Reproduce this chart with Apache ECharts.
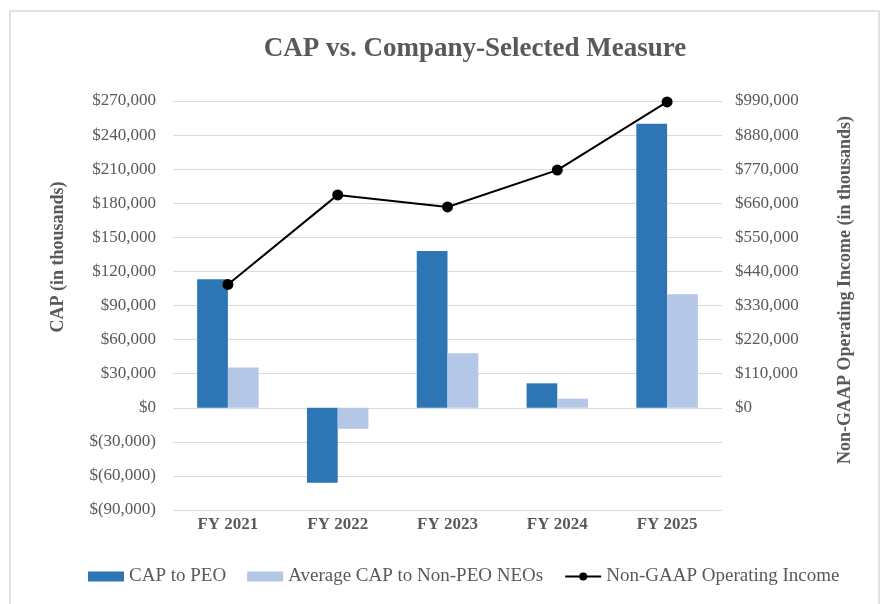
<!DOCTYPE html>
<html>
<head>
<meta charset="utf-8">
<script src="https://cdn.jsdelivr.net/npm/echarts@6/dist/echarts.min.js"></script>
<style>
  html, body { margin: 0; padding: 0; background: #fff; }
  #chart { width: 883px; height: 604px; }
</style>
</head>
<body>
<div id="chart"></div>
<script>
// data (thousands)
const years = ['FY 2021', 'FY 2022', 'FY 2023', 'FY 2024', 'FY 2025']
const capToPeo = [113000, -66000, 138000, 21500, 250000]
const avgCapNonPeo = [35500, -18500, 48000, 8000, 100000]
const nonGaapIncome = [398000, 687000, 648000, 767000, 987000]

const FONT = "'Liberation Serif', 'Times New Roman', serif"
const TXT = '#595959'

// $1,234 / $(1,234) style
const money = (v) => {
  const s = Math.abs(v).toLocaleString('en-US')
  return v < 0 ? '$(' + s + ')' : '$' + s
}

const myChart = echarts.init(document.getElementById('chart'))

const options = {
  backgroundColor: '#fff',
  animation: false,
  title: {
    text: 'CAP vs. Company-Selected Measure',
    left: 470,
    top: 31,
    textAlign: 'center',
    textStyle: { fontFamily: FONT, fontSize: 27, fontWeight: 'bold', color: TXT }
  },
  legend: {
    left: 83,
    top: 562,
    itemGap: 21,
    itemWidth: 36,
    itemHeight: 10,
    textStyle: { fontFamily: FONT, fontSize: 19, color: TXT },
    data: [
      { name: 'CAP to PEO', icon: 'rect' },
      { name: 'Average CAP to Non-PEO NEOs', icon: 'rect' },
      'Non-GAAP Operating Income'
    ]
  },
  grid: { left: 173, right: 161, top: 101, bottom: 94 },
  xAxis: {
    type: 'category',
    data: years,
    axisLine: { show: false, onZero: false },
    axisTick: { show: false },
    axisLabel: { margin: 6, fontFamily: FONT, fontSize: 17, fontWeight: 'bold', color: TXT }
  },
  yAxis: [
    {
      type: 'value',
      min: -90000,
      max: 270000,
      interval: 30000,
      axisLine: { show: false },
      axisTick: { show: false },
      splitLine: { lineStyle: { color: '#d9d9d9', width: 1 } },
      axisLabel: { margin: 17, fontFamily: FONT, fontSize: 17, color: TXT, formatter: money }
    },
    {
      type: 'value',
      min: -330000,
      max: 990000,
      interval: 110000,
      axisLine: { show: false },
      axisTick: { show: false },
      splitLine: { show: false },
      axisLabel: {
        margin: 13, fontFamily: FONT, fontSize: 17, color: TXT,
        formatter: (v) => (v < 0 ? '' : money(v))
      }
    }
  ],
  series: [
    {
      name: 'CAP to PEO',
      type: 'bar',
      barGap: '0%',
      barCategoryGap: '44%',
      itemStyle: { color: '#2E75B6' },
      data: capToPeo
    },
    {
      name: 'Average CAP to Non-PEO NEOs',
      type: 'bar',
      barGap: '0%',
      barCategoryGap: '44%',
      itemStyle: { color: '#B4C7E7' },
      data: avgCapNonPeo
    },
    {
      name: 'Non-GAAP Operating Income',
      type: 'line',
      yAxisIndex: 1,
      symbol: 'circle',
      symbolSize: 11,
      itemStyle: { color: '#000' },
      lineStyle: { color: '#000', width: 2 },
      data: nonGaapIncome
    }
  ],
  graphic: [
    {
      type: 'rect',
      shape: { x: 10, y: 11, width: 869, height: 600 },
      style: { fill: 'none', stroke: '#d9d9d9', lineWidth: 1.5 },
      silent: true
    },
    {
      type: 'text',
      x: 58, y: 257, rotation: Math.PI / 2,
      style: {
        text: 'CAP (in thousands)', x: 0, y: 0,
        align: 'center', verticalAlign: 'middle',
        font: 'bold 18px ' + FONT, fill: TXT
      }
    },
    {
      type: 'text',
      x: 845, y: 290, rotation: Math.PI / 2,
      style: {
        text: 'Non-GAAP Operating Income (in thousands)', x: 0, y: 0,
        align: 'center', verticalAlign: 'middle',
        font: 'bold 18px ' + FONT, fill: TXT
      }
    }
  ]
}

myChart.setOption(options)
</script>
</body>
</html>
